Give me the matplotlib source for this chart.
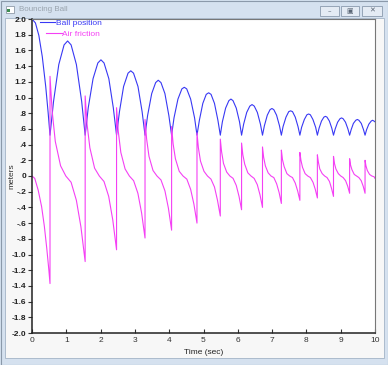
import matplotlib
matplotlib.use("Agg")
import matplotlib.pyplot as plt
from matplotlib.patches import Rectangle

plt.rcParams.update({
    "font.family": ["Liberation Sans", "DejaVu Sans"],
    "font.size": 6,
})

# ball position (seconds, meters)
ball_t = [0.0, 0.1, 0.2, 0.3, 0.4, 0.47,
          0.525, 0.628, 0.781, 0.935, 1.038, 1.14, 1.294, 1.448,
          1.55, 1.64, 1.78, 1.92, 2.01, 2.10, 2.24, 2.37,
          2.465, 2.55, 2.67, 2.80, 2.88, 2.96, 3.09, 3.21,
          3.295, 3.37, 3.49, 3.605, 3.68, 3.76, 3.875, 3.99,
          4.07, 4.14, 4.255, 4.37, 4.44, 4.51, 4.625, 4.74,
          4.81, 4.88, 4.98, 5.08, 5.15, 5.22, 5.32, 5.42,
          5.49, 5.55, 5.645, 5.74, 5.80, 5.86, 5.955, 6.05,
          6.11, 6.17, 6.26, 6.35, 6.415, 6.48, 6.57, 6.66,
          6.72, 6.775, 6.86, 6.94, 6.995, 7.05, 7.13, 7.215,
          7.27, 7.32, 7.405, 7.485, 7.54, 7.595, 7.675, 7.755,
          7.81, 7.86, 7.94, 8.015, 8.065, 8.115, 8.19, 8.27,
          8.32, 8.37, 8.44, 8.51, 8.555, 8.60, 8.67, 8.74,
          8.79, 8.84, 8.91, 8.98, 9.025, 9.07, 9.14, 9.21,
          9.26, 9.305, 9.37, 9.44, 9.485, 9.53, 9.60, 9.665,
          9.71, 9.755, 9.82, 9.89, 9.93, 9.97, 10.0]
ball_y = [2.0, 1.95, 1.79, 1.52, 1.14, 0.81,
          0.52, 0.95, 1.42, 1.67, 1.72, 1.67, 1.42, 0.95,
          0.52, 0.87, 1.24, 1.44, 1.48, 1.44, 1.24, 0.87,
          0.52, 0.82, 1.14, 1.31, 1.34, 1.31, 1.14, 0.82,
          0.52, 0.77, 1.05, 1.19, 1.22, 1.19, 1.05, 0.77,
          0.52, 0.74, 0.98, 1.11, 1.13, 1.11, 0.98, 0.74,
          0.52, 0.71, 0.925, 1.04, 1.06, 1.04, 0.925, 0.71,
          0.52, 0.69, 0.865, 0.96, 0.98, 0.96, 0.865, 0.69,
          0.52, 0.66, 0.81, 0.89, 0.91, 0.89, 0.81, 0.66,
          0.52, 0.64, 0.775, 0.845, 0.86, 0.845, 0.775, 0.64,
          0.52, 0.63, 0.75, 0.82, 0.83, 0.82, 0.75, 0.63,
          0.52, 0.62, 0.72, 0.78, 0.79, 0.78, 0.72, 0.62,
          0.52, 0.61, 0.70, 0.75, 0.76, 0.75, 0.70, 0.61,
          0.52, 0.60, 0.685, 0.73, 0.74, 0.73, 0.685, 0.60,
          0.52, 0.59, 0.67, 0.71, 0.72, 0.71, 0.67, 0.59,
          0.52, 0.59, 0.66, 0.70, 0.71, 0.70, 0.69]

# air friction (jumps at every bounce)
friction_t = [0.0, 0.08, 0.18, 0.28, 0.36, 0.43, 0.49, 0.525,
              0.525, 0.587, 0.679, 0.833, 0.986, 1.14, 1.294, 1.427, 1.55,
              1.55, 1.605, 1.687, 1.825, 1.962, 2.099, 2.236, 2.355, 2.465,
              2.465, 2.515, 2.59, 2.714, 2.838, 2.963, 3.087, 3.195, 3.295,
              3.295, 3.342, 3.411, 3.528, 3.644, 3.76, 3.876, 3.977, 4.07,
              4.07, 4.114, 4.181, 4.292, 4.403, 4.514, 4.625, 4.721, 4.81,
              4.81, 4.851, 4.912, 5.014, 5.116, 5.218, 5.32, 5.408, 5.49,
              5.49, 5.527, 5.583, 5.676, 5.769, 5.862, 5.955, 6.036, 6.11,
              6.11, 6.147, 6.202, 6.293, 6.385, 6.476, 6.568, 6.647, 6.72,
              6.72, 6.753, 6.803, 6.885, 6.968, 7.05, 7.133, 7.204, 7.27,
              7.27, 7.302, 7.351, 7.432, 7.513, 7.594, 7.675, 7.745, 7.81,
              7.81, 7.841, 7.887, 7.963, 8.04, 8.116, 8.193, 8.259, 8.32,
              8.32, 8.348, 8.39, 8.461, 8.532, 8.602, 8.673, 8.734, 8.79,
              8.79, 8.818, 8.86, 8.931, 9.002, 9.072, 9.143, 9.204, 9.26,
              9.26, 9.287, 9.328, 9.395, 9.463, 9.53, 9.598, 9.656, 9.71,
              9.71, 9.736, 9.776, 9.842, 9.908, 9.974, 10.0]
friction_y = [0.0, -0.03, -0.18, -0.39, -0.64, -0.92, -1.19, -1.37,
              1.27, 0.83, 0.44, 0.13, 0.0, -0.08, -0.31, -0.65, -1.09,
              1.02, 0.66, 0.36, 0.10, 0.0, -0.07, -0.26, -0.56, -0.94,
              0.87, 0.57, 0.30, 0.09, 0.0, -0.06, -0.22, -0.47, -0.79,
              0.72, 0.47, 0.25, 0.07, 0.0, -0.05, -0.19, -0.41, -0.69,
              0.63, 0.41, 0.22, 0.06, 0.0, -0.04, -0.17, -0.36, -0.60,
              0.55, 0.36, 0.19, 0.06, 0.0, -0.04, -0.14, -0.31, -0.51,
              0.47, 0.31, 0.16, 0.05, 0.0, -0.03, -0.12, -0.26, -0.43,
              0.42, 0.27, 0.15, 0.04, 0.0, -0.03, -0.11, -0.24, -0.40,
              0.37, 0.24, 0.13, 0.04, 0.0, -0.02, -0.10, -0.21, -0.35,
              0.33, 0.21, 0.12, 0.03, 0.0, -0.02, -0.09, -0.19, -0.31,
              0.30, 0.20, 0.11, 0.03, 0.0, -0.02, -0.08, -0.17, -0.28,
              0.27, 0.18, 0.09, 0.03, 0.0, -0.02, -0.07, -0.16, -0.26,
              0.25, 0.16, 0.09, 0.03, 0.0, -0.02, -0.06, -0.13, -0.22,
              0.22, 0.14, 0.08, 0.02, 0.0, -0.02, -0.06, -0.13, -0.22,
              0.20, 0.13, 0.07, 0.02, 0.0, -0.01, -0.03]

x_ticks = [0, 1, 2, 3, 4, 5, 6, 7, 8, 9, 10]
y_ticks = [2.0, 1.8, 1.6, 1.4, 1.2, 1.0, 0.8, 0.6, 0.4, 0.2, 0.0,
           -0.2, -0.4, -0.6, -0.8, -1.0, -1.2, -1.4, -1.6, -1.8, -2.0]
y_tick_labels = ["2.0", "1.8", "1.6", "1.4", "1.2", "1.0", ".8", ".6", ".4", ".2", "0",
                 "-.2", "-.4", "-.6", "-.8", "-1.0", "-1.2", "-1.4", "-1.6", "-1.8", "-2.0"]

BLUE = "#3838f4"
MAGENTA = "#f440f4"
W, H = 388, 365

fig = plt.figure(figsize=(W / 100, H / 100), dpi=100, facecolor="#d5e1ef")


def fig_rect(x, y, w, h, **kw):
    # rectangle in pixel units measured from the top-left corner
    r = Rectangle((x / W, 1 - (y + h) / H), w / W, h / H, transform=fig.transFigure, zorder=-5, **kw)
    fig.patches.append(r)


# window chrome: frame, client area, title bar bits
fig_rect(0.5, 0.5, W - 1, H - 1, facecolor="none", edgecolor="#8b99aa", lw=0.8)
fig_rect(5, 18, 379, 340, facecolor="#f7f7f7", edgecolor="#a3b3c6", lw=0.6)
fig_rect(6, 6, 8, 7, facecolor="#ffffff", edgecolor="#7d8a99", lw=0.5)
fig_rect(7, 9, 3, 3, facecolor="#3c8c50", edgecolor="none")
fig.text(19 / W, 1 - 9.5 / H, "Bouncing Ball", fontsize=5.8, color="#9aa4ae", va="center", ha="left")
for (x0, x1), glyph in zip([(320, 339), (341, 359), (362, 382)], ["\u2013", "\u25a3", "\u2715"]):
    fig_rect(x0, 6, x1 - x0, 10, facecolor="#e4ebf4", edgecolor="#8a9aae", lw=0.6)
    fig.text((x0 + x1) / 2 / W, 1 - 11 / H, glyph, fontsize=5, color="#5a6675",
             ha="center", va="center", family="DejaVu Sans")

ax = fig.add_axes([32 / W, 32 / H, 343 / W, 314 / H])
ax.set_facecolor("white")

ball_line, = ax.plot(ball_t, ball_y, color=BLUE, lw=0.8)
fric_line, = ax.plot(friction_t, friction_y, color=MAGENTA, lw=0.8)

ax.set_xlim(0, 10)
ax.set_ylim(-2, 2)
ax.set_xticks(x_ticks)
ax.set_xticklabels([str(x) for x in x_ticks], fontsize=6, color="#333333")
ax.set_yticks(y_ticks)
ax.set_yticklabels(y_tick_labels, fontsize=6, fontweight="bold", color="#222222")
ax.tick_params(axis="x", direction="in", length=3, width=0.8, pad=2.8, color="#333333")
ax.tick_params(axis="y", direction="out", length=3, width=0.8, pad=1.2, color="#333333")

for side in ["left", "bottom"]:
    ax.spines[side].set_color("#222222")
    ax.spines[side].set_linewidth(1.1)
for side in ["top", "right"]:
    ax.spines[side].set_color("#777777")
    ax.spines[side].set_linewidth(0.8)

ax.set_xlabel("Time (sec)", fontsize=6, color="#222222", labelpad=3.5)
ax.set_ylabel("meters", fontsize=6, color="#333333")
ax.yaxis.set_label_coords(-0.048, 0.5)

# two stacked legends, second one indented like the original
leg1 = ax.legend([ball_line], ["Ball position"], loc="upper left", bbox_to_anchor=(0.022, 1.0),
                 frameon=False, borderpad=0, borderaxespad=0, handlelength=1.9, handletextpad=0.1,
                 labelcolor="linecolor", prop={"size": 6})
ax.add_artist(leg1)
ax.legend([fric_line], ["Air friction"], loc="upper left", bbox_to_anchor=(0.040, 0.965),
          frameon=False, borderpad=0, borderaxespad=0, handlelength=1.9, handletextpad=0.1,
          labelcolor="linecolor", prop={"size": 6})

fig.savefig("out.png", dpi=100, facecolor=fig.get_facecolor())
